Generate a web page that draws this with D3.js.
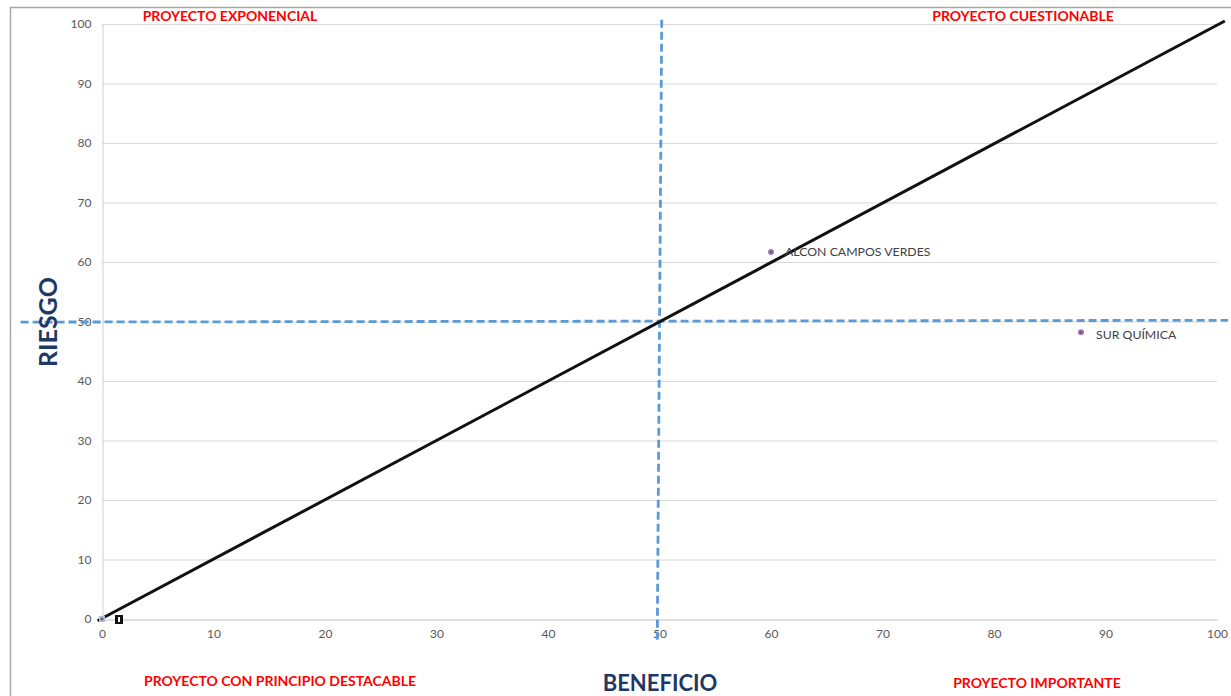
<!DOCTYPE html>
<html>
<head>
<meta charset="utf-8">
<script src="https://cdn.jsdelivr.net/npm/d3@7"></script>
<style>
  html, body { margin: 0; padding: 0; background: #fff; }
  svg { display: block; }
</style>
</head>
<body>
<svg id="chart" width="1231" height="696"></svg>
<script>
// Projects plotted by benefit (x) against risk (y)
const projects = ["ALCON CAMPOS VERDES", "SUR QUÍMICA"];
const beneficio = [60, 87.8];
const riesgo = [61.7, 48.2];

// Origin helper point
const originPoint = [0, 0];

// Diagonal reference line (equal risk and benefit)
const diagonal = [[-0.4, -0.3], [100.7, 100.5]];

// Quadrant dividers (dashed)
const dividerV = [[50.2, 100.7], [49.8, -3.5]];
const dividerH = [[-7.3, 49.9], [101, 50.2]];

// Axis ticks
const xTicks = [0, 10, 20, 30, 40, 50, 60, 70, 80, 90, 100];
const yTicks = [0, 10, 20, 30, 40, 50, 60, 70, 80, 90, 100];

// Quadrant titles
const quadrantLabels = ["PROYECTO EXPONENCIAL", "PROYECTO CUESTIONABLE", "PROYECTO CON PRINCIPIO DESTACABLE", "PROYECTO IMPORTANTE"];
const axisTitles = ["BENEFICIO", "RIESGO"];

const svg = d3.select("#chart");
const font = "Lato, 'Open Sans', sans-serif";

const x = d3.scaleLinear().domain([0, 100]).range([102, 1217]);
const y = d3.scaleLinear().domain([0, 100]).range([619, 24]);

// Outer frame (top and left edges visible)
svg.append("path")
  .attr("d", "M10.5,696 V7.5 H1231")
  .attr("fill", "none")
  .attr("stroke", "#a6a6a6")
  .attr("stroke-width", 1.5);

// Horizontal gridlines
svg.append("g").selectAll("line")
  .data(yTicks.filter(d => d > 0))
  .join("line")
  .attr("x1", x(0)).attr("x2", x(100))
  .attr("y1", d => y(d) + 0.5).attr("y2", d => y(d) + 0.5)
  .attr("stroke", "#d9d9d9").attr("stroke-width", 1);

// Y axis
const yAxis = svg.append("g")
  .attr("transform", `translate(${x(0) + 0.5},0)`)
  .call(d3.axisLeft(y).tickValues(yTicks).tickSize(0).tickPadding(11));
yAxis.select(".domain").attr("stroke", "#d0d0d0");
yAxis.selectAll("text").attr("fill", "#595959").attr("font-size", 12).attr("font-family", font);

// X axis
const xAxis = svg.append("g")
  .attr("transform", `translate(0,${y(0) + 0.5})`)
  .call(d3.axisBottom(x).tickValues(xTicks).tickSize(0).tickPadding(10));
xAxis.select(".domain").attr("stroke", "#bfbfbf");
xAxis.selectAll("text").attr("fill", "#595959").attr("font-size", 12).attr("font-family", font);

const line = d3.line().x(d => x(d[0])).y(d => y(d[1]));

// Quadrant dividers
[dividerV, dividerH].forEach(seg => {
  svg.append("path")
    .attr("d", line(seg))
    .attr("fill", "none")
    .attr("stroke", "#5b9bd5")
    .attr("stroke-width", 2.8)
    .attr("stroke-dasharray", "8,4");
});

// Diagonal
svg.append("path")
  .attr("d", line(diagonal))
  .attr("fill", "none")
  .attr("stroke", "#111")
  .attr("stroke-width", 3);

// Origin marker and its small label box
svg.append("rect")
  .attr("x", x(originPoint[0]) - 3).attr("y", y(originPoint[1]) - 3)
  .attr("width", 6).attr("height", 6)
  .attr("fill", "#9dc3e6");
svg.append("circle")
  .attr("cx", x(originPoint[0])).attr("cy", y(originPoint[1]))
  .attr("r", 1.5).attr("fill", "#c0392b");
svg.append("rect")
  .attr("x", x(originPoint[0]) + 13).attr("y", y(originPoint[1]) - 4)
  .attr("width", 8).attr("height", 9)
  .attr("fill", "#111");
svg.append("rect")
  .attr("x", x(originPoint[0]) + 16).attr("y", y(originPoint[1]) - 2)
  .attr("width", 2).attr("height", 5)
  .attr("fill", "#fff");

// Project points
const pts = projects.map((p, i) => ({ name: p, bx: beneficio[i], ry: riesgo[i] }));
const g = svg.append("g").selectAll("g").data(pts).join("g")
  .attr("transform", d => `translate(${x(d.bx)},${y(d.ry)})`);
g.append("circle").attr("r", 3).attr("fill", "#8e7cc3");
g.append("circle").attr("r", 1.2).attr("fill", "#c0392b");
g.append("text")
  .attr("x", (d, i) => i === 0 ? 14 : 15)
  .attr("y", (d, i) => i === 0 ? 4 : 7)
  .attr("font-family", font).attr("font-size", 12.3)
  .attr("fill", "#404040")
  .text(d => d.name);

// Quadrant titles
const qPos = [[230, 21], [1023, 21], [280, 686], [1037, 688]];
svg.append("g").selectAll("text")
  .data(quadrantLabels)
  .join("text")
  .attr("x", (d, i) => qPos[i][0]).attr("y", (d, i) => qPos[i][1])
  .attr("text-anchor", "middle")
  .attr("font-family", font).attr("font-weight", "bold").attr("font-size", 14)
  .attr("fill", "#ff0000")
  .text(d => d);

// Axis titles
svg.append("text")
  .attr("x", 660).attr("y", 691)
  .attr("text-anchor", "middle")
  .attr("font-family", font).attr("font-weight", "bold").attr("font-size", 22)
  .attr("fill", "#1f3864")
  .text(axisTitles[0]);
svg.append("text")
  .attr("transform", "translate(57,322) rotate(-90)")
  .attr("text-anchor", "middle")
  .attr("font-family", font).attr("font-weight", "bold").attr("font-size", 25)
  .attr("fill", "#1f3864")
  .text(axisTitles[1]);
</script>
</body>
</html>
